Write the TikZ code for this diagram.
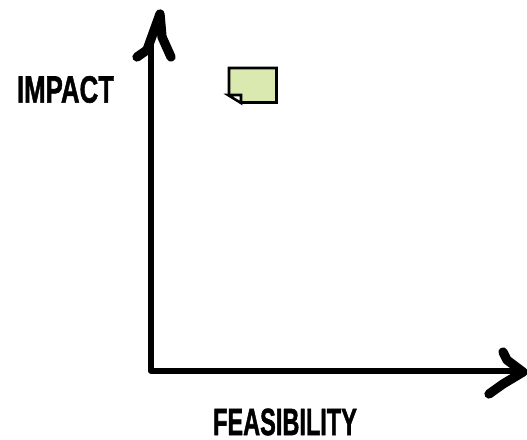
\documentclass[tikz,border=0pt]{standalone}
\usepackage{fontspec}
\setmainfont[BoldFeatures={FakeBold=1.6}]{Liberation Sans}
\definecolor{notegreen}{HTML}{D9E9B0}
\tikzset{
  axisline/.style={line width=4.2pt,line cap=round,line join=round},
  headline/.style={line width=6.6pt,line cap=round,line join=round},
  axislabel/.style={inner sep=0pt,font=\bfseries\fontsize{27}{27}\selectfont},
}
\begin{document}
\begin{tikzpicture}[x=0.025cm,y=-0.025cm]
\useasboundingbox (0,0) rectangle (527,440);

%axes
\coordinate (origin) at (151,371);
\coordinate (ytop) at (151,40);
\coordinate (xend) at (515,371);
\draw[axisline] (ytop) -- (origin) -- (xend);

%arrow heads
\coordinate (ytip) at (160,14);
\coordinate (xtip) at (523,372);
\draw[headline] (137,57) -- (147,50) -- (ytip) -- (162,37) -- (171,57);
\draw[headline] (503,352) -- (507,360) -- (xtip) -- (503,384) -- (489,394);

%labels
\node[axislabel,xscale=0.68] (impact) at (65.5,89.5) {IMPACT};
\node[axislabel,xscale=0.62] (feasibility) at (285,422) {FEASIBILITY};

%sticky note
\draw[line width=2pt,fill=notegreen,line join=miter] (229,68) -- (276.5,68) -- (276.5,102.5) -- (241,102.5) -- (229,95) -- cycle;
\draw[line width=1.8pt,fill=white,line join=miter] (228,95) -- (241,95) -- (241,103) -- cycle;
\end{tikzpicture}
\end{document}
